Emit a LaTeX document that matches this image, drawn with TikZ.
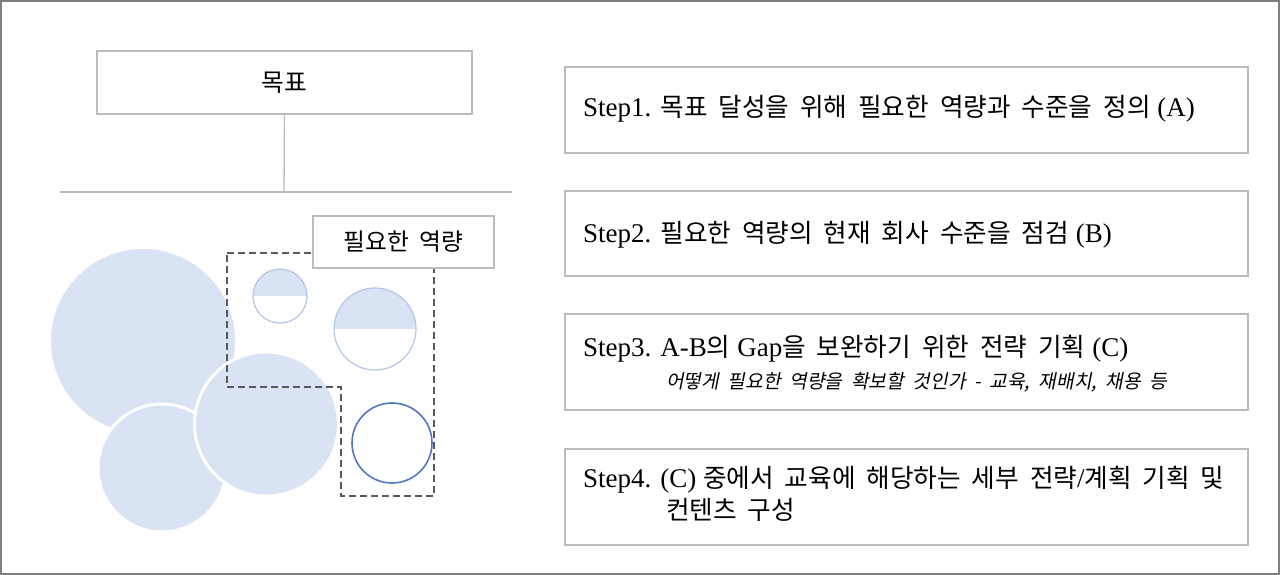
\documentclass[tikz,border=0pt]{standalone}
\usepackage{fontspec}
\setmainfont{Liberation Serif}
\newfontfamily\krfont{Noto Sans CJK KR}[Scale=0.95,WordSpace=1.9]
\newfontfamily\krifont{Noto Sans CJK KR}[Scale=0.85,FakeSlant=0.2,WordSpace=2]
\newcommand\K[1]{{\krfont #1}}
\newcommand\KI[1]{{\krifont #1}}
\definecolor{boxgray}{HTML}{BCBCBC}
\definecolor{framegray}{HTML}{7F7F7F}
\definecolor{cfill}{HTML}{DAE3F3}
\definecolor{cline}{HTML}{B4C7E7}
\definecolor{cblue}{HTML}{4F78C4}
\definecolor{dashgray}{HTML}{595959}
\begin{document}
\begin{tikzpicture}[x=1pt,y=-1pt,
  box/.style={draw=boxgray,line width=1.5pt,fill=white,inner sep=0pt},
  txt/.style={inner sep=0pt,anchor=base west,font=\fontsize{27}{32}\selectfont},
  subtxt/.style={inner sep=0pt,anchor=base west,font=\fontsize{22.6}{26}\selectfont},
  circ/.style={circle,inner sep=0pt,fill=cfill},
  halfc/.style={circle,inner sep=0pt,draw=cline,line width=1.2pt,
    path picture={\fill[cfill] (path picture bounding box.north west) rectangle (path picture bounding box.east);}},
  dashline/.style={draw=dashgray,line width=1.5pt,dash pattern=on 7pt off 4pt},
  conn/.style={draw=boxgray,line width=1.3pt}]
\useasboundingbox (0,0) rectangle (1280,575);
\fill[white] (0,0) rectangle (1280,575);
\draw[framegray,line width=2pt] (1,1) rectangle (1279,574);

% goal box and tree line
\node[box,minimum width=375,minimum height=63,font=\fontsize{26}{30}\selectfont] (goal) at (284.5,82.5) {\K{목표}};
\coordinate (hub) at (284,192);
\coordinate (hlL) at (60,192);
\coordinate (hlR) at (512,192);
\draw[conn] (goal.south) -- (hub);
\draw[conn] (hlL) -- (hlR);

% circles
\node[circ,minimum size=184] (c1) at (143,341) {};
\node[circ,minimum size=128,draw=white,line width=3pt] (c2) at (162,468) {};
\node[circ,minimum size=144,draw=white,line width=3pt] (c3) at (266.5,424) {};
\node[halfc,minimum size=54] (c4) at (280,296) {};
\node[halfc,minimum size=82] (c5) at (375,329) {};
\node[circle,inner sep=0pt,minimum size=80,draw=cblue,line width=1.6pt] (c6) at (392,443) {};

% dashed outline
\draw[dashline] (227,253) -- (434,253) -- (434,496) -- (341,496) -- (341,387) -- (227,387) -- cycle;

% required competencies box
\node[box,minimum width=181,minimum height=52,font=\fontsize{25}{30}\selectfont] (need) at (403.5,242) {\K{필요한 역량}};

% step boxes
\node[box,minimum width=683,minimum height=86] (s1) at (906.5,110) {};
\node[box,minimum width=683,minimum height=85] (s2) at (906.5,233.5) {};
\node[box,minimum width=683,minimum height=96] (s3) at (906.5,362) {};
\node[box,minimum width=683,minimum height=96] (s4) at (906.5,497) {};

\node[txt] (t1) at (583,117) {Step1. \K{목표 달성을 위해 필요한 역량과 수준을 정의} (A)};
\node[txt] (t2) at (583,242) {Step2. \K{필요한 역량의 현재 회사 수준을 점검} (B)};
\node[txt] (t3) at (583,356) {Step3. A-B\K{의} Gap\K{을 보완하기 위한 전략 기획} (C)};
\node[subtxt] (t3b) at (666,388) {\KI{어떻게 필요한 역량을 확보할 것인가 - 교육, 재배치, 채용 등}};
\node[txt] (t4) at (583,487) {Step4. (C) \K{중에서 교육에 해당하는 세부 전략}/\K{계획 기획 및}};
\node[txt] (t4b) at (666,519) {\K{컨텐츠 구성}};
\end{tikzpicture}
\end{document}
